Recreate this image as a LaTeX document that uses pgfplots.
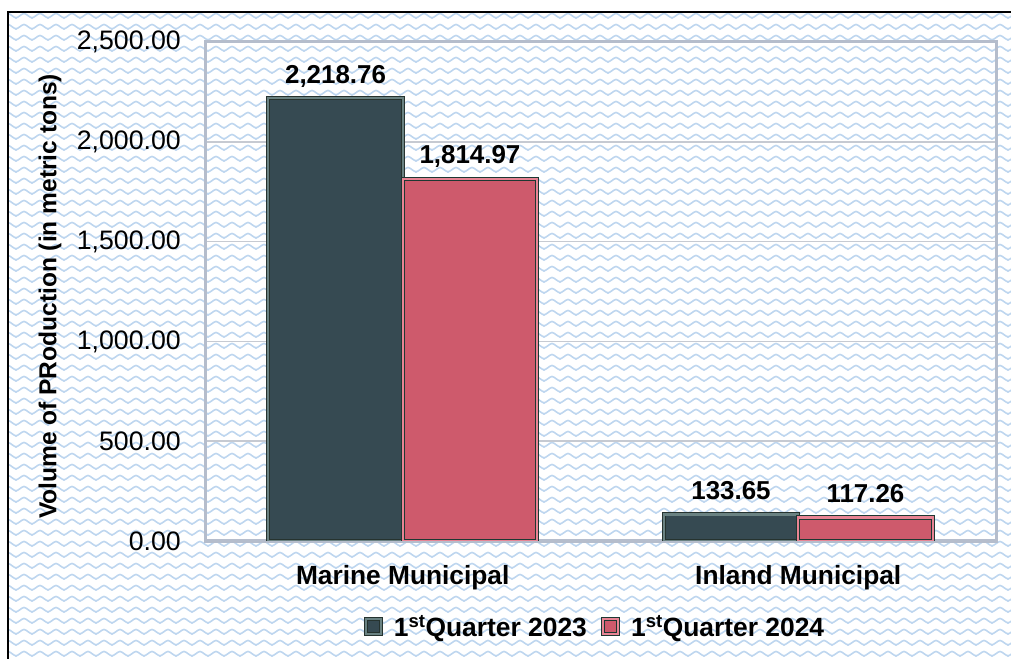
\documentclass[border=0pt]{standalone}
\usepackage{fontspec}
\setmainfont{Liberation Sans}
\usepackage{pgfplots}
\pgfplotsset{compat=1.18}
\usetikzlibrary{patterns}
\definecolor{wavecol}{HTML}{BED6EF}
\definecolor{framecol}{HTML}{B5BDCC}
\definecolor{gridcol}{HTML}{C6CAD2}
\definecolor{darkbar}{HTML}{364A52}
\definecolor{darktop}{HTML}{6A8282}
\definecolor{darkedge}{HTML}{26332F}
\definecolor{pinkbar}{HTML}{CE5A6C}
\definecolor{pinktop}{HTML}{E88494}
\definecolor{pinkedge}{HTML}{1E3832}
\pgfdeclarepatternformonly{waves}{\pgfpoint{-1bp}{-1bp}}{\pgfpoint{17bp}{12bp}}{\pgfpoint{16bp}{11bp}}{%
  \pgfsetlinewidth{1.6bp}%
  \pgfpathmoveto{\pgfpoint{-1bp}{3bp}}%
  \pgfpathcurveto{\pgfpoint{2.5bp}{3bp}}{\pgfpoint{5.5bp}{7.5bp}}{\pgfpoint{8bp}{7.5bp}}%
  \pgfpathcurveto{\pgfpoint{10.5bp}{7.5bp}}{\pgfpoint{13.5bp}{3bp}}{\pgfpoint{17bp}{3bp}}%
  \pgfusepath{stroke}%
}
\begin{document}
\begin{tikzpicture}
\useasboundingbox (0bp,0bp) rectangle (1011bp,659bp);
\fill[pattern=waves, pattern color=wavecol] (8bp,0bp) rectangle (1011bp,647bp);
\draw[black, line width=2bp] (8bp,0bp) -- (8bp,647bp) -- (1011bp,647bp);
\begin{axis}[
  at={(205bp,118bp)}, anchor=south west,
  scale only axis, width=791bp, height=499bp,
  ybar=0pt, bar width=0.34,
  xmin=-0.5, xmax=1.5, ymin=0, ymax=2500,
  xtick={0,1}, xticklabels={Marine Municipal, Inland Municipal},
  ytick={0,500,1000,1500,2000,2500},
  scaled y ticks=false,
  major tick length=0pt,
  axis line style={draw=framecol, line width=3bp},
  ymajorgrids, grid style={draw=gridcol, line width=1.5bp},
  /pgf/number format/assume math mode=true,
  yticklabel style={font=\fontsize{26.8}{30}\selectfont, inner sep=0pt, xshift=-24bp,
    /pgf/number format/.cd, fixed, fixed zerofill, precision=2, 1000 sep={,}},
  xticklabel style={font=\bfseries\fontsize{26.4}{30}\selectfont, inner sep=0pt, yshift=-24bp},
  ylabel={Volume of PRoduction (in metric tons)},
  ylabel style={font=\bfseries\fontsize{24.6}{28}\selectfont, at={(axis description cs:-0.196,0.49)}, anchor=center},
  nodes near coords,
  nodes near coords style={font=\bfseries\fontsize{26}{30}\selectfont, anchor=base, inner sep=0pt, yshift=15bp,
    /pgf/number format/.cd, fixed, fixed zerofill, precision=2, 1000 sep={,}},
  legend image code/.code={\draw[#1] (0bp,-7bp) rectangle (15bp,8bp);},
  legend columns=2,
  legend style={at={(axis description cs:0.493,-0.172)}, anchor=center, draw=none, fill=none,
    font=\bfseries\fontsize{26.5}{30}\selectfont,
    /tikz/every odd column/.append style={column sep=9bp},
    /tikz/every even column/.append style={column sep=12bp}},
]
\addplot[fill=darkbar, draw=darkedge, line width=0.9bp, double=darktop, double distance=2.4bp] coordinates {(0,2218.76) (1,133.65)};
\addplot[fill=pinkbar, draw=pinkedge, line width=0.9bp, double=pinktop, double distance=2.4bp] coordinates {(0,1814.97) (1,117.26)};
\legend{1\textsuperscript{st}Quarter 2023, 1\textsuperscript{st}Quarter 2024}
\end{axis}
\end{tikzpicture}
\end{document}
